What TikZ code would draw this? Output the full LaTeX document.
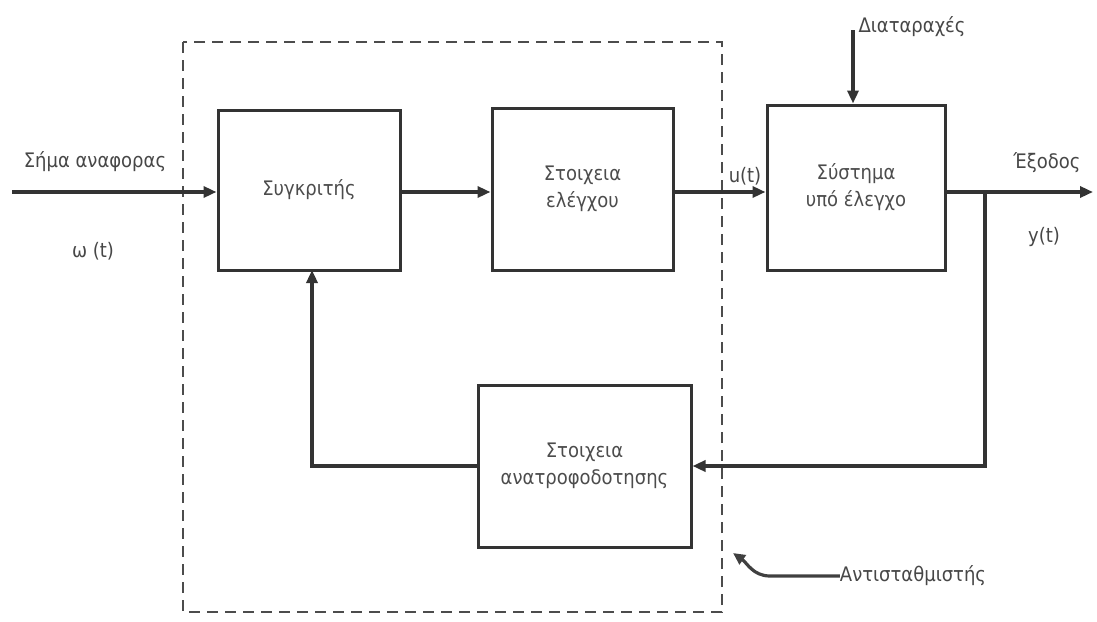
\documentclass[tikz,border=0pt]{standalone}
\usepackage{fontspec}
\setmainfont{DejaVu Sans Condensed}
\usetikzlibrary{arrows.meta}
\begin{document}
\begin{tikzpicture}[x=1pt,y=-1pt,
  blockbox/.style={draw=black!80,line width=3pt,minimum width=#1,inner sep=0pt,align=center,
    font=\fontsize{20}{27}\selectfont,text=black!70},
  sig/.style={draw=black!80,line width=3.6pt,-{Triangle[length=13pt,width=11pt]}},
  lbl/.style={font=\fontsize{20}{22}\selectfont,text=black!72,inner sep=0pt}]
\useasboundingbox (0,0) rectangle (1097,621);
% compensator boundary
\draw[black!70,line width=2.4pt,dash pattern=on 11pt off 7pt] (183,42) rectangle (722,612);
% blocks
\node[blockbox=182pt,minimum height=160pt] (cmp) at (309,190) {Συγκριτής};
\node[blockbox=181pt,minimum height=162pt] (ctl) at (582.5,189) {Στοιχεια\\ελέγχου};
\node[blockbox=178pt,minimum height=165pt] (plant) at (856,187.5) {Σύστημα\\υπό έλεγχο};
\node[blockbox=213pt,minimum height=162pt] (fb) at (584.5,466) {Στοιχεια\\ανατροφοδοτησης};
% coordinates for free ends
\coordinate (in) at (12,192);
\coordinate (out) at (1093,192);
\coordinate (br) at (985,192);
\coordinate (dist) at (853,30);
% signal path
\draw[sig] (in) -- (cmp.west |- in);
\draw[sig] (cmp.east |- in) -- (ctl.west |- in);
\draw[sig] (ctl.east |- in) -- (plant.west |- in);
\draw[sig] (plant.east |- in) -- (out);
\draw[sig] (dist) -- (plant.north -| dist);
% feedback loop
\draw[sig] (br) -- (br |- fb) -- (fb.east);
\draw[sig] (fb.west) -- (312,466) -- (312,270);
% labels
\node[lbl] (ref) at (95,162) {Σήμα αναφορας};
\node[lbl] (wt) at (93,251) {ω (t)};
\node[lbl] (ut) at (745,176) {u(t)};
\node[lbl] (dlbl) at (912,27) {Διαταραχές};
\node[lbl] (ylbl) at (1047,163) {Έξοδος};
\node[lbl] (yt) at (1044,237) {y(t)};
\node[lbl] (comp) at (913,576) {Αντισταθμιστής};
\draw[black!75,line width=3.2pt,-{Triangle[length=12pt,width=11pt]}]
  (comp.west) -- (770,576) to[out=180,in=-35] (733,553);
\end{tikzpicture}
\end{document}
